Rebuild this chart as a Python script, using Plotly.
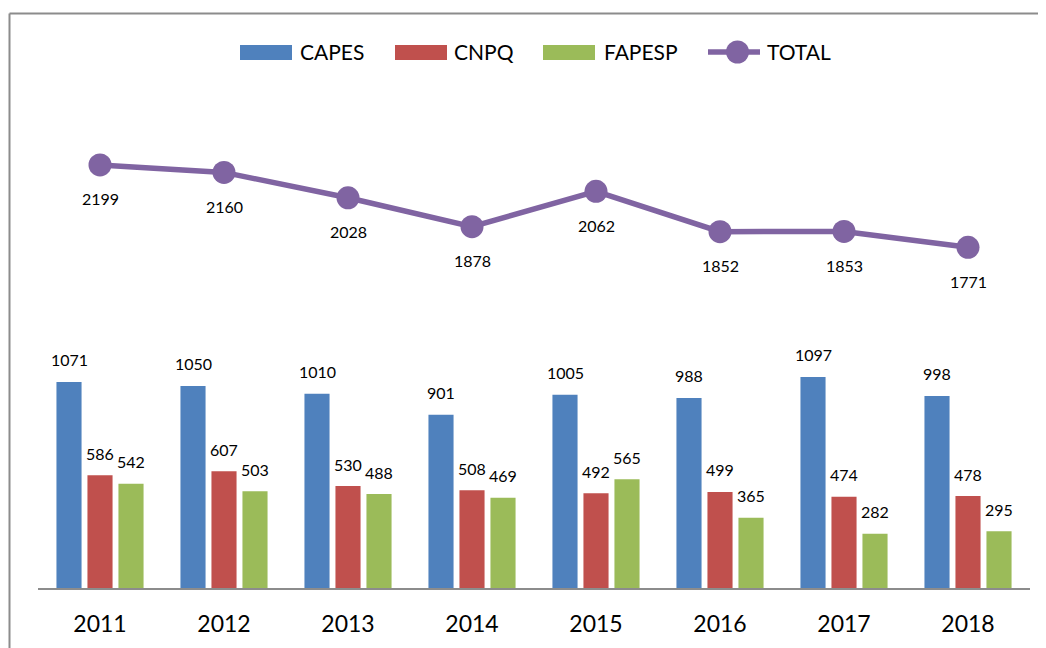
import plotly.graph_objects as go

years = ["2011", "2012", "2013", "2014", "2015", "2016", "2017", "2018"]
capes = [1071, 1050, 1010, 901, 1005, 988, 1097, 998]
cnpq = [586, 607, 530, 508, 492, 499, 474, 478]
fapesp = [542, 503, 488, 469, 565, 365, 282, 295]
total = [2199, 2160, 2028, 1878, 2062, 1852, 1853, 1771]

C_CAPES = "#4F81BD"
C_CNPQ = "#C0504D"
C_FAPESP = "#9BBB59"
C_TOTAL = "#8064A2"
FONT = "Lato"

OFF = 8  # page body margin
W, H = 1038, 640
L, R, T, B = 30, 16, 99, 60
PW, PH = W - L - R, H - T - B


def px(x):
    return (x - OFF - L) / PW


def py(y):
    return (H - B - (y - OFF)) / PH


fig = go.Figure()
for name, vals, col in [("CAPES", capes, C_CAPES), ("CNPQ", cnpq, C_CNPQ), ("FAPESP", fapesp, C_FAPESP)]:
    fig.add_trace(go.Bar(x=years, y=vals, name=name, marker=dict(color=col, line=dict(width=0)),
                         showlegend=False))
fig.add_trace(go.Scatter(x=years, y=total, name="TOTAL", mode="lines+markers",
                         line=dict(color=C_TOTAL, width=5.5), marker=dict(size=23, color=C_TOTAL),
                         showlegend=False))

ann = []
for vals, shift in [(capes, -31), (cnpq, 0), (fapesp, 31)]:
    for i, v in enumerate(vals):
        ann.append(dict(x=i, y=v, text=str(v), showarrow=False, xshift=shift, yshift=22,
                        font=dict(family=FONT, size=16, color="#000")))
for i, v in enumerate(total):
    ann.append(dict(x=i, y=v, text=str(v), showarrow=False, yshift=-34,
                    font=dict(family=FONT, size=16, color="#000")))

# custom legend
shapes = []
legend_items = [("CAPES", C_CAPES, 240, 298), ("CNPQ", C_CNPQ, 395, 452), ("FAPESP", C_FAPESP, 543, 602)]
for name, col, x0, tx in legend_items:
    shapes.append(dict(type="rect", xref="paper", yref="paper", x0=px(x0), x1=px(x0 + 52),
                       y0=py(60), y1=py(45), fillcolor=col, line=dict(width=0)))
    ann.append(dict(xref="paper", yref="paper", x=px(tx), y=py(52), text=name, showarrow=False,
                    xanchor="left", yanchor="middle", font=dict(family=FONT, size=21, color="#000")))
shapes.append(dict(type="line", xref="paper", yref="paper", x0=px(708), x1=px(760), y0=py(52), y1=py(52),
                   line=dict(color=C_TOTAL, width=5.5)))
shapes.append(dict(type="circle", xref="paper", yref="paper", x0=px(726), x1=px(749), y0=py(63.5), y1=py(40.5),
                   fillcolor=C_TOTAL, line=dict(width=0)))
ann.append(dict(xref="paper", yref="paper", x=px(765), y=py(52), text="TOTAL", showarrow=False,
                xanchor="left", yanchor="middle", font=dict(family=FONT, size=21, color="#000")))

# frame (left and top edges)
shapes.append(dict(type="line", xref="paper", yref="paper", x0=px(9.5), x1=px(9.5), y0=py(13.5), y1=py(680),
                   line=dict(color="#8C8C8C", width=2)))
shapes.append(dict(type="line", xref="paper", yref="paper", x0=px(9.5), x1=px(1080), y0=py(13.5), y1=py(13.5),
                   line=dict(color="#8C8C8C", width=2)))

fig.update_layout(
    width=W, height=H, margin=dict(l=L, r=R, t=T, b=B),
    paper_bgcolor="white", plot_bgcolor="white",
    barmode="group", bargap=0.25, bargroupgap=0.19,
    annotations=ann, shapes=shapes,
    xaxis=dict(type="category", range=[-0.5, len(years) - 0.5], showline=True, linecolor="#8C8C8C",
               linewidth=2, showgrid=False, ticks="",
               tickfont=dict(family=FONT, size=23, color="#000"), ticklabelstandoff=14),
    yaxis=dict(range=[0, 2500], visible=False, showgrid=False, zeroline=False),
)

fig.write_html("out.html")
